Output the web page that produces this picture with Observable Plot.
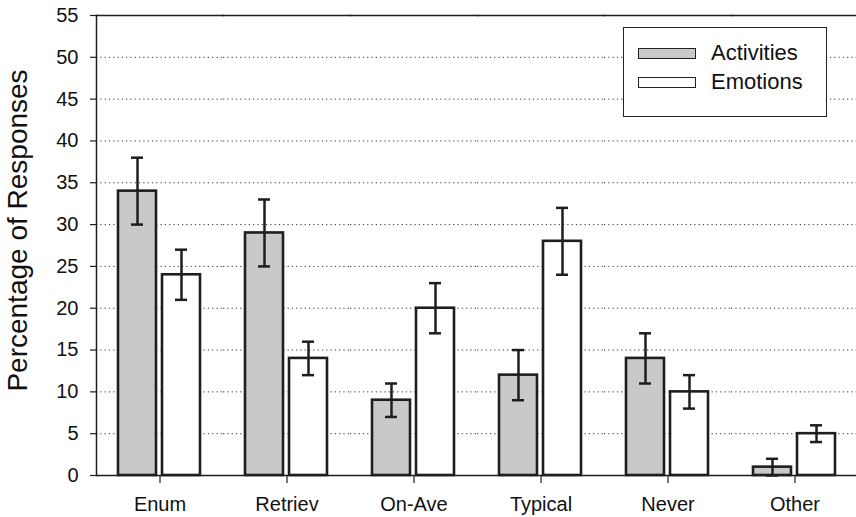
<!DOCTYPE html>
<html>
<head>
<meta charset="utf-8">
<script src="https://cdn.jsdelivr.net/npm/d3@7"></script>
<script src="https://cdn.jsdelivr.net/npm/@observablehq/plot@0.6"></script>
<style>
  html, body { margin: 0; padding: 0; background: #fff; }
  #wrap { position: relative; width: 856px; height: 517px; overflow: hidden; font-family: "Liberation Sans", Arial, Helvetica, sans-serif; }
  #legend { position: absolute; left: 623px; top: 27px; width: 202px; height: 88px; border: 1.5px solid #222; background: #fff; }
  .item { position: absolute; left: 14px; display: flex; align-items: center; height: 26px; }
  .sw { width: 56px; height: 9px; border: 1.5px solid #222; margin-right: 15px; }
  .lab { font-size: 22px; color: #111; }
</style>
</head>
<body>
<div id="wrap">
  <div id="chart"></div>
  <div id="legend"></div>
</div>
<script>
const categories = ["Enum", "Retriev", "On-Ave", "Typical", "Never", "Other"];
const series = ["Activities", "Emotions"];
const activities = [34, 29, 9, 12, 14, 1];
const activitiesErr = [4, 4, 2, 3, 3, 1];
const emotions = [24, 14, 20, 28, 10, 5];
const emotionsErr = [3, 2, 3, 4, 2, 1];
const yTicks = [0, 5, 10, 15, 20, 25, 30, 35, 40, 45, 50, 55];
const gridTicks = [5, 10, 15, 20, 25, 30, 35, 40, 45, 50];
const seriesColors = ["#c8c9cb", "#ffffff"];
const yTitle = "Percentage of Responses";

const rows = [];
categories.forEach((c, i) => {
  rows.push({cat: c, series: series[0], value: activities[i], lo: activities[i] - activitiesErr[i], hi: activities[i] + activitiesErr[i]});
  rows.push({cat: c, series: series[1], value: emotions[i], lo: emotions[i] - emotionsErr[i], hi: emotions[i] + emotionsErr[i]});
});

const ink = "#1e1e1e";

const chart = Plot.plot({
  width: 856,
  height: 517,
  marginTop: 15,
  marginBottom: 42,
  marginLeft: 94,
  marginRight: -4,
  style: {fontFamily: "'Liberation Sans', Arial, Helvetica, sans-serif", color: "#111", background: "#fff"},
  fx: {domain: categories, padding: 0},
  x: {domain: series, paddingInner: 0.133, paddingOuter: 0.485, axis: null},
  y: {domain: [0, 55], axis: null},
  color: {domain: series, range: seriesColors},
  marks: [
    Plot.gridY(gridTicks, {stroke: "#333", strokeOpacity: 1, strokeWidth: 1, strokeDasharray: "1.2,3.1"}),
    Plot.barY(rows, {fx: "cat", x: "series", y: "value", fill: "series", stroke: ink, strokeWidth: 2.6}),
    Plot.ruleX(rows, {fx: "cat", x: "series", y1: "lo", y2: "hi", stroke: ink, strokeWidth: 2.5}),
    Plot.tickY(rows, {fx: "cat", x: "series", y: "lo", stroke: ink, strokeWidth: 2.5, insetLeft: 13, insetRight: 13}),
    Plot.tickY(rows, {fx: "cat", x: "series", y: "hi", stroke: ink, strokeWidth: 2.5, insetLeft: 13, insetRight: 13}),
    Plot.ruleY([0], {stroke: ink, strokeWidth: 1.6}),
    Plot.frame({anchor: "top", stroke: ink, strokeWidth: 1.5}),
    Plot.frame({anchor: "left", stroke: ink, strokeWidth: 1.5, facetAnchor: "left"}),
    Plot.axisY(yTicks, {tickSize: 6, tickPadding: 12, fontSize: 20, label: null, stroke: ink, strokeWidth: 1.2}),
    Plot.axisFx({anchor: "bottom", tickSize: 8, tickPadding: 13, fontSize: 20, label: null, stroke: ink, strokeWidth: 1.2}),
    Plot.text([yTitle], {frameAnchor: "left", textAnchor: "middle", rotate: -90, dx: -78, dy: -15, fontSize: 28, fill: "#111", facetAnchor: "left"})
  ]
});
document.getElementById("chart").appendChild(chart);

const legend = document.getElementById("legend");
series.forEach((s, i) => {
  const item = document.createElement("div");
  item.className = "item";
  item.style.top = (12 + i * 29) + "px";
  const sw = document.createElement("div");
  sw.className = "sw";
  sw.style.background = seriesColors[i];
  const lab = document.createElement("span");
  lab.className = "lab";
  lab.textContent = s;
  item.appendChild(sw);
  item.appendChild(lab);
  legend.appendChild(item);
});
</script>
</body>
</html>
